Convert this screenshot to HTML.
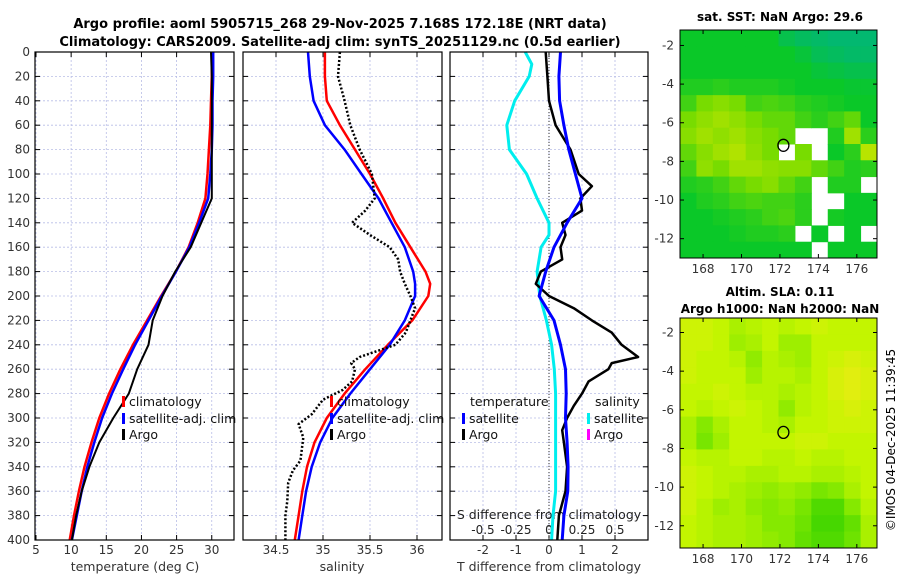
<!DOCTYPE html>
<html><head><meta charset="utf-8"><style>
body{margin:0;background:#fff}
svg{display:block;font-family:"DejaVu Sans","Liberation Sans",sans-serif}
</style></head><body>
<svg id="fig" width="900" height="580" viewBox="0 0 900 580">
<text x="340" y="28" text-anchor="middle" font-size="13" font-weight="bold">Argo profile: aoml 5905715_268 29-Nov-2025 7.168S 172.18E (NRT data)</text>
<text x="340" y="46" text-anchor="middle" font-size="13" font-weight="bold">Climatology: CARS2009. Satellite-adj clim: synTS_20251129.nc (0.5d earlier)</text>
<text x="780" y="21" text-anchor="middle" font-size="12" font-weight="bold">sat. SST: NaN Argo: 29.6</text>
<text x="780" y="296" text-anchor="middle" font-size="12" font-weight="bold">Altim. SLA: 0.11</text>
<text x="780" y="313" text-anchor="middle" font-size="12" font-weight="bold">Argo h1000: NaN h2000: NaN</text>
<text transform="translate(895,440) rotate(-90)" text-anchor="middle" font-size="12">©IMOS 04-Dec-2025 11:39:45</text>
</svg>
<script>
// ---- data ----
const depthTicks=[0,20,40,60,80,100,120,140,160,180,200,220,240,260,280,300,320,340,360,380,400];
const tempTicks=[5,10,15,20,25,30];
const salTicks=[34.5,35,35.5,36];
const tdiffTicks=[-2,-1,0,1,2];
const sdiffTicks=[-0.5,-0.25,0,0.25,0.5];
const sdiffLabels=["-0.5","-0.25","0","0.25","0.5"];

const tDepth=[0,20,40,60,80,100,120,140,160,180,200,220,240,260,280,300,320,340,360,380,400];
const tClim=[30,30,29.9,29.8,29.6,29.4,29.1,28,26.7,24.9,22.8,20.8,18.8,17,15.4,14,12.9,11.9,11.1,10.4,9.8];
const tSat=[30.2,30.2,30.1,30.1,30,29.8,29.5,28.2,26.8,24.9,22.9,21,19.1,17.4,15.8,14.4,13.3,12.3,11.5,10.8,10.1];
const tArgo=[29.9,30,30,30,30,30,30,28.5,27,24.8,23,21.6,21,19.4,18.2,16,14,12.6,11.5,10.7,10.1];

const sDepth=[0,20,40,60,80,100,120,140,160,180,190,200,220,240,260,280,300,320,340,360,380,400];
const sClim=[35.02,35.02,35.04,35.18,35.34,35.5,35.64,35.77,35.93,36.09,36.14,36.12,35.95,35.69,35.45,35.23,35.04,34.91,34.83,34.78,34.74,34.70];
const sSat=[34.84,34.86,34.9,35.02,35.23,35.41,35.59,35.73,35.87,35.96,35.98,35.98,35.87,35.71,35.5,35.29,35.1,34.97,34.88,34.82,34.78,34.74];
const aDepth=[0,20,40,60,80,100,120,130,140,150,160,170,180,190,200,210,220,230,240,250,255,260,270,277,285,297,305,316,335,343,353,368,380,400];
const sArgo=[35.18,35.16,35.23,35.29,35.39,35.52,35.55,35.45,35.31,35.5,35.71,35.8,35.82,35.87,35.93,35.98,35.93,35.88,35.77,35.39,35.3,35.34,35.31,35.21,35.0,34.88,34.74,34.79,34.76,34.68,34.63,34.62,34.6,34.6];

const dtDepth=[0,20,40,60,80,100,120,140,160,180,200,220,240,260,280,300,320,340,360,380,400];
const dtSat=[0.35,0.3,0.32,0.45,0.6,0.8,1.0,0.55,0.15,-0.1,-0.3,0.15,0.35,0.5,0.52,0.5,0.55,0.58,0.57,0.45,0.4];
const dtaDepth=[0,20,40,60,80,100,110,120,130,140,150,160,170,180,190,200,210,220,230,240,250,255,260,270,280,290,300,310,320,340,360,380,400];
const dtArgo=[-0.1,-0.05,0,0.2,0.65,0.9,1.3,0.95,1.0,0.4,0.5,0.35,0.4,-0.25,-0.4,0,0.75,1.3,1.9,2.2,2.7,1.9,1.8,1.2,1.0,0.75,0.55,0.4,0.45,0.55,0.5,0.3,0.25];
const dsDepth=[0,10,20,40,60,80,100,120,140,150,160,180,200,220,240,260,280,300,340,360,380,400];
const dsSat=[-0.18,-0.13,-0.15,-0.26,-0.32,-0.3,-0.17,-0.09,0,0,-0.06,-0.09,-0.07,-0.02,0.02,0.04,0.05,0.05,0.05,0.05,0.03,0.02];

const lonTicks=[168,170,172,174,176];
const latTicks=[-2,-4,-6,-8,-10,-12];
const sstGrid=[
[1,1,1,1,1,1,0.6,0.4,0.3,0.2,0.2,0.2],
[1,1,1,1,1,1,1,0.8,0.5,0.4,0.3,0.3],
[1,1,1,1,1,1,1,1,0.8,0.7,0.6,0.6],
[1.2,1.2,1.3,1.2,1.2,1.2,1.1,1,1,1,0.9,0.9],
[1.5,2,2.2,2,1.5,1.6,1.5,1.3,1.2,1.1,1,1],
[2,2.3,2.5,2.3,2,1.8,1.8,1.5,1.3,1.5,1.8,1],
[2.2,2.5,2.3,2.5,2.2,2,1.8,null,null,1.2,2.5,1.3],
[1.8,2.2,2.5,2.7,2.3,2,null,2,null,1,1.3,2.8],
[1.5,2.3,2,2.5,2.5,2.3,2.2,2.2,1.8,1.5,1.2,1.3],
[1.2,1.3,1.5,1.8,2,2.2,1.8,1.5,null,1.2,1.2,null],
[1,1.2,1.3,1.5,1.6,1.5,1.5,1.3,null,null,1,1],
[1,1,1.1,1.2,1.3,1.5,1.6,1.3,null,1.1,1,1],
[1,1,1,1.1,1.2,1.2,1.3,null,1,null,1,null],
[1,1,1,1,1,1,1,1,null,1,1,1]];
const slaGrid=[
[.85,.85,.8,.7,.75,.8,.75,.8,.85,.8,.8,.8],
[.85,.85,.8,.65,.7,.8,.65,.65,.8,.8,.8,.8],
[.85,.8,.8,.75,.6,.75,.7,.65,.8,.85,.9,.85],
[.85,.8,.8,.8,.65,.75,.75,.7,.8,.9,.95,.9],
[.8,.8,.85,.8,.75,.75,.7,.75,.8,.9,.95,.9],
[.8,.75,.8,.85,.8,.75,.6,.75,.8,.85,.9,.85],
[.7,.55,.7,.8,.8,.75,.7,.8,.8,.85,.85,.85],
[.7,.5,.65,.8,.8,.8,.8,.85,.85,.8,.8,.8],
[.8,.75,.75,.8,.8,.75,.75,.8,.75,.75,.8,.8],
[.85,.8,.75,.75,.7,.7,.75,.75,.7,.7,.75,.8],
[.85,.8,.75,.7,.65,.6,.65,.6,.5,.55,.7,.8],
[.85,.75,.65,.7,.6,.55,.6,.5,.3,.3,.55,.75],
[.8,.75,.7,.7,.65,.55,.55,.45,.25,.25,.4,.7],
[.8,.75,.7,.7,.65,.6,.55,.4,.3,.3,.45,.7]];
const argoLon=172.18, argoLat=-7.168;

// ---- drawing ----
const NS="http://www.w3.org/2000/svg";
const svg=document.getElementById('fig');
function mk(tag,attrs,parent){const e=document.createElementNS(NS,tag);for(const k in attrs)e.setAttribute(k,attrs[k]);(parent||svg).appendChild(e);return e;}
const Y0=52,Y1=540;
const yD=d=>Y0+(Y1-Y0)*d/400;
function lin(d0,d1,p0,p1){return v=>p0+(v-d0)*(p1-p0)/(d1-d0);}

const panels=[
 {x0:35,x1:234,name:'temperature-panel'},
 {x0:243,x1:442,name:'salinity-panel'},
 {x0:450,x1:648,name:'difference-panel'}];
const xT=lin(5,30,36,211.75);
const xS=lin(35,36,323,417);
const xDT=lin(0,1,549,582);
const xDS=lin(0,0.5,549,615);

panels.forEach((p,i)=>{
  const g=mk('g',{});
  
  
  p.g=g;
  const xt=i==0?tempTicks.map(xT):i==1?salTicks.map(xS):tdiffTicks.map(xDT);
  xt.forEach(x=>{const l=mk('line',{x1:x,x2:x,y1:Y0,y2:Y1,stroke:'#b8bde6','stroke-width':0.8,'stroke-dasharray':'2,2'},g);
    
    mk('line',{x1:x,x2:x,y1:Y1,y2:Y1-5,stroke:'#000'},g);mk('line',{x1:x,x2:x,y1:Y0,y2:Y0+5,stroke:'#000'},g);});
  depthTicks.forEach(d=>{const y=yD(d);
    const l=mk('line',{x1:p.x0,x2:p.x1,y1:y,y2:y,stroke:'#b8bde6','stroke-width':0.8,'stroke-dasharray':'2,2'},g);
    
    mk('line',{x1:p.x0,x2:p.x0+5,y1:y,y2:y,stroke:'#000'},g);mk('line',{x1:p.x1,x2:p.x1-5,y1:y,y2:y,stroke:'#000'},g);});
});
// y tick labels
depthTicks.forEach(d=>{const t=mk('text',{x:30,y:yD(d)+4,'text-anchor':'end','font-size':12,fill:'#333'});t.textContent=d;
 });
tempTicks.forEach(v=>{const t=mk('text',{x:xT(v),y:554,'text-anchor':'middle','font-size':12,fill:'#333'});t.textContent=v;
 });
salTicks.forEach(v=>{const t=mk('text',{x:xS(v),y:554,'text-anchor':'middle','font-size':12,fill:'#333'});t.textContent=v;
 });
tdiffTicks.forEach(v=>{const t=mk('text',{x:xDT(v),y:554,'text-anchor':'middle','font-size':12,fill:'#333'});t.textContent=v;
 });
sdiffTicks.forEach((v,i)=>{const t=mk('text',{x:xDS(v),y:534,'text-anchor':'middle','font-size':12,fill:'#222'});t.textContent=sdiffLabels[i];
 });
[['temperature (deg C)',135,'x-axis-title-temperature'],['salinity',342,'x-axis-title-salinity'],['T difference from climatology',549,'x-axis-title-t-difference']].forEach(a=>{
 const t=mk('text',{x:a[1],y:571,'text-anchor':'middle','font-size':12.5,fill:'#333'});t.textContent=a[0];
 });
{const t=mk('text',{x:549,y:519,'text-anchor':'middle','font-size':12.5,fill:'#222'});t.textContent='S difference from climatology';
 }

// zero line
{const l=mk('line',{x1:xDT(0),x2:xDT(0),y1:Y0,y2:Y1,stroke:'#333','stroke-width':1,'stroke-dasharray':'1,2'});
 }

function series(xs,ds,xf,color,name,dash,w){
  const pts=xs.map((v,i)=>xf(v).toFixed(1)+','+yD(ds[i]).toFixed(1)).join(' ');
  const a={points:pts,fill:'none',stroke:color,'stroke-width':w||2.5,'stroke-linejoin':'round'};
  if(dash)a['stroke-dasharray']=dash;
  const e=mk('polyline',a);
  
  
}
series(tClim,tDepth,xT,'#f00','temperature-climatology-line');
series(tSat,tDepth,xT,'#00f','temperature-satellite-line');
series(tArgo,tDepth,xT,'#000','temperature-argo-line',null,2);
series(sClim,sDepth,xS,'#f00','salinity-climatology-line');
series(sSat,sDepth,xS,'#00f','salinity-satellite-line');
series(sArgo,aDepth,xS,'#000','salinity-argo-line','2,2',2.5);
series(dsSat,dsDepth,xDS,'#0ee','s-difference-satellite-line',null,3);
series(dtArgo,dtaDepth,xDT,'#000','t-difference-argo-line');
series(dtSat,dtDepth,xDT,'#00f','t-difference-satellite-line',null,3);

// panel frames
panels.forEach(p=>{const r=mk('rect',{x:p.x0,y:Y0,width:p.x1-p.x0,height:Y1-Y0,fill:'none',stroke:'#000','stroke-width':1.2});
 });

// legends
function leg(x,y,color,label,name){
  const g=mk('g',{});
  
  
  if(color)mk('rect',{x:x,y:y-10,width:3,height:11,fill:color},g);
  const t=mk('text',{x:x+7,y:y,'font-size':12.5,fill:'#111'},g);t.textContent=label;
}
leg(122,406,'#f00','climatology','legend-entry-climatology');
leg(122,423,'#00f','satellite-adj. clim','legend-entry-satellite-adj');
leg(122,439,'#000','Argo','legend-entry-argo');
leg(330,406,'#f00','climatology','legend-entry-climatology-salinity');
leg(330,423,'#00f','satellite-adj. clim','legend-entry-satellite-adj-salinity');
leg(330,439,'#000','Argo','legend-entry-argo-salinity');
leg(463,406,null,'temperature','legend-heading-temperature');
leg(462,423,'#00f','satellite','legend-entry-t-satellite');
leg(462,439,'#000','Argo','legend-entry-t-argo');
leg(588,406,null,'salinity','legend-heading-salinity');
leg(587,423,'#0ee','satellite','legend-entry-s-satellite');
leg(587,439,'#f0f','Argo','legend-entry-s-argo');

// maps
function sstColor(v){const s=[[0,180,130],[10,200,40],[120,220,0],[200,230,0],[250,170,0]];
 const i=Math.min(3,Math.floor(v)),f=v-i;return 'rgb('+s[i].map((c,k)=>Math.round(c+(s[i+1][k]-c)*f)).join(',')+')';}
function slaColor(v){const s=[[20,200,0],[120,230,0],[195,245,0],[235,235,20]];const st=[0,0.5,0.8,1];
 let i=0;while(i<2&&v>st[i+1])i++;const f=(v-st[i])/(st[i+1]-st[i]);return 'rgb('+s[i].map((c,k)=>Math.round(c+(s[i+1][k]-c)*f)).join(',')+')';}
function drawMap(x0,x1,y0,y1,latTop,latBot,grid,cf,name){
  const g=mk('g',{});
  
  
  const lonL=166.8,lonR=177.05;
  const xL=lin(lonL,lonR,x0,x1),yL=lin(latTop,latBot,y0,y1);
  const rows=grid.length,cols=grid[0].length;
  const dLat=(latTop-latBot)/rows,dLon=(lonR-lonL)/cols;
  grid.forEach((row,r)=>row.forEach((v,c)=>{
    if(v===null)return;
    const xa=xL(lonL+c*dLon),xb=xL(lonL+(c+1)*dLon),ya=yL(latTop-r*dLat),yb=yL(latTop-(r+1)*dLat);
    const e=mk('rect',{x:xa,y:ya,width:xb-xa+0.5,height:yb-ya+0.5,fill:cf(v)},g);
    
    
  }));
  const fr=mk('rect',{x:x0,y:y0,width:x1-x0,height:y1-y0,fill:'none',stroke:'#000','stroke-width':1},g);
  lonTicks.forEach(l=>{const x=xL(l);mk('line',{x1:x,x2:x,y1:y1,y2:y1-4,stroke:'#000'},g);mk('line',{x1:x,x2:x,y1:y0,y2:y0+4,stroke:'#000'},g);
    const t=mk('text',{x:x,y:y1+15,'text-anchor':'middle','font-size':12,fill:'#333'},g);t.textContent=l;
    });
  latTicks.forEach(l=>{const y=yL(l);mk('line',{x1:x0,x2:x0+4,y1:y,y2:y,stroke:'#000'},g);mk('line',{x1:x1,x2:x1-4,y1:y,y2:y,stroke:'#000'},g);
    const t=mk('text',{x:x0-6,y:y+4,'text-anchor':'end','font-size':12,fill:'#333'},g);t.textContent=l;
    });
  const c=mk('ellipse',{cx:xL(argoLon),cy:yL(argoLat),rx:5.5,ry:6,fill:'none',stroke:'#000','stroke-width':1.3},g);
  
  
}
drawMap(680,877,30,258,-1.2,-13.0,sstGrid,sstColor,'sst-map');
drawMap(680,877,318,548,-1.25,-13.15,slaGrid,slaColor,'sla-map');
</script>
</body></html>
